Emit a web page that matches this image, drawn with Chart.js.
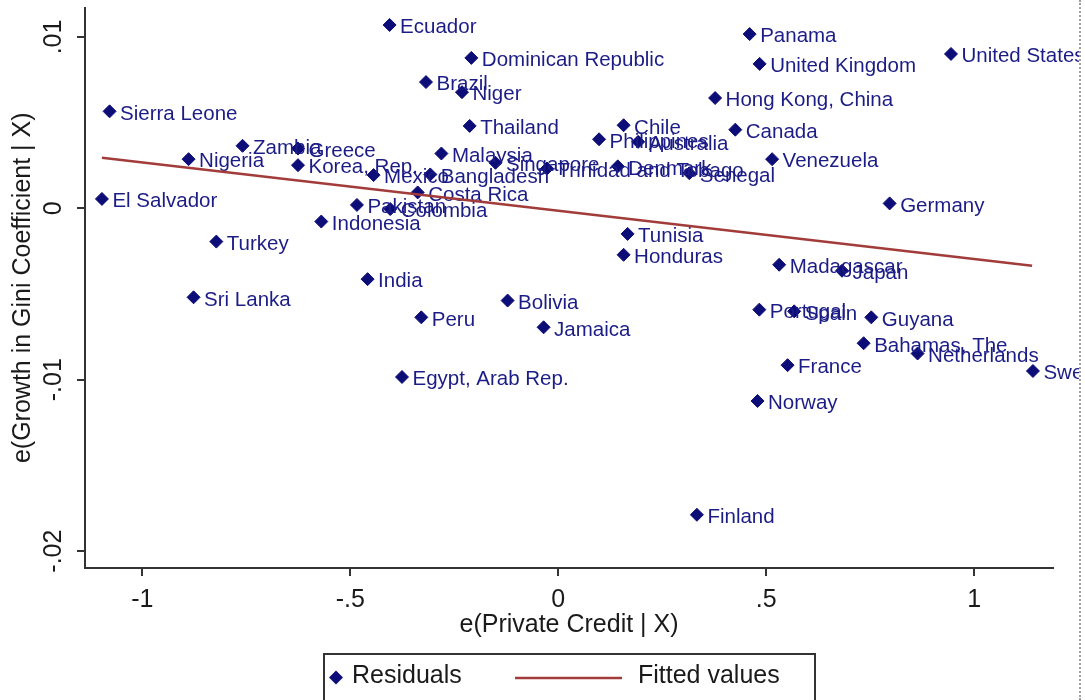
<!DOCTYPE html>
<html>
<head>
<meta charset="utf-8">
<title>Private credit and inequality growth</title>
<script src="https://cdn.jsdelivr.net/npm/chart.js@4.4.1/dist/chart.umd.min.js"></script>
<style>
    html, body { margin: 0; padding: 0; background: #fff; }
    #wrap { position: absolute; left: 0; top: 0; width: 1079px; height: 700px; border-right: 2px dotted #a0a0a0; }
    canvas { display: block; }
</style>
</head>
<body>
<div id="wrap"><canvas id="chart" width="1079" height="700"></canvas></div>
<script>
const countries = [
    "Ecuador", "Dominican Republic", "Brazil", "Niger", "Thailand", "Chile", "Philippines",
    "Australia", "Malaysia", "Singapore", "Trinidad and Tobago", "Denmark", "Senegal",
    "Venezuela", "Canada", "Hong Kong, China", "Panama", "United Kingdom", "United States",
    "Germany", "Sierra Leone", "Zambia", "Greece", "Nigeria", "Korea, Rep.", "El Salvador",
    "Mexico", "Bangladesh", "Costa Rica", "Pakistan", "Colombia", "Indonesia", "Turkey",
    "Sri Lanka", "India", "Bolivia", "Peru", "Jamaica", "Egypt, Arab Rep.", "Tunisia",
    "Honduras", "Madagascar", "Japan", "Portugal", "Spain", "Guyana", "Bahamas, The",
    "Netherlands", "Sweden", "France", "Norway", "Finland"
];

// e(Private Credit | X)
const creditResid = [
    -0.4055, -0.209, -0.318, -0.2315, -0.213, 0.157, 0.098,
    0.192, -0.281, -0.151, -0.027, 0.143, 0.315,
    0.514, 0.4255, 0.377, 0.46, 0.484, 0.944,
    0.7965, -1.0786, -0.759, -0.6257, -0.8887, -0.6257, -1.097,
    -0.444, -0.3077, -0.338, -0.484, -0.404, -0.5697, -0.822,
    -0.8767, -0.4584, -0.1218, -0.3293, -0.0353, -0.3757, 0.1666,
    0.157, 0.531, 0.682, 0.4832, 0.567, 0.7524, 0.734,
    0.8637, 1.141, 0.5512, 0.479, 0.3332
];

// e(Growth in Gini Coefficient | X)
const giniResid = [
    0.0107, 0.00878, 0.00737, 0.00678, 0.00481, 0.00485, 0.00403,
    0.00388, 0.0032, 0.00266, 0.00233, 0.00245, 0.00205,
    0.00287, 0.00459, 0.00644, 0.01017, 0.00843, 0.00901,
    0.00029, 0.00566, 0.00365, 0.00349, 0.00287, 0.00252, 0.00055,
    0.00194, 0.00198, 0.00093, 0.0002, -0.00004, -0.00077, -0.00194,
    -0.00519, -0.00413, -0.00538, -0.00636, -0.00694, -0.00984, -0.00149,
    -0.00271, -0.00329, -0.00364, -0.00591, -0.00601, -0.00636, -0.00787,
    -0.00847, -0.00949, -0.00915, -0.01124, -0.01788
];

const fittedX = [-1.097, 1.139];
const fittedY = [0.00295, -0.00335];

const xTicks = [-1, -0.5, 0, 0.5, 1];
const xTickLabels = ["-1", "-.5", "0", ".5", "1"];
const yTicks = [-0.02, -0.01, 0, 0.01];
const yTickLabels = ["-.02", "-.01", "0", ".01"];

const FONT = "'Liberation Sans', Arial, sans-serif";
const NAVY = "#0d0d78";
const LABEL_NAVY = "#1c1c86";
const FIT_RED = "#a23c3a";
const AXIS = "#333333";
const TEXT = "#1a1a1a";

// country names to the right of each marker
const pointLabels = {
    id: "pointLabels",
    afterDatasetDraw(chart, args) {
        if (args.index !== 0) return;
        const ctx = chart.ctx;
        ctx.save();
        ctx.font = "20.5px " + FONT;
        ctx.fillStyle = LABEL_NAVY;
        ctx.textBaseline = "alphabetic";
        args.meta.data.forEach((pt, i) => {
            ctx.fillText(countries[i], pt.x + 10.5, pt.y + 8.3);
        });
        ctx.restore();
    }
};

// boxed legend like the stata one
const boxLegend = {
    id: "boxLegend",
    afterDraw(chart) {
        const ctx = chart.ctx;
        const sets = chart.data.datasets;
        ctx.save();
        ctx.strokeStyle = AXIS;
        ctx.lineWidth = 2;
        ctx.strokeRect(324, 654, 491, 60);

        ctx.fillStyle = NAVY;
        ctx.beginPath();
        ctx.moveTo(336, 670.5);
        ctx.lineTo(343, 677.5);
        ctx.lineTo(336, 684.5);
        ctx.lineTo(329, 677.5);
        ctx.closePath();
        ctx.fill();

        ctx.strokeStyle = FIT_RED;
        ctx.lineWidth = 2.5;
        ctx.beginPath();
        ctx.moveTo(515, 678);
        ctx.lineTo(622, 678);
        ctx.stroke();

        ctx.font = "25px " + FONT;
        ctx.fillStyle = TEXT;
        ctx.textBaseline = "alphabetic";
        ctx.fillText(sets[0].label, 352, 683);
        ctx.fillText(sets[1].label, 638, 683);
        ctx.restore();
    }
};

const residuals = countries.map((c, i) => ({ x: creditResid[i], y: giniResid[i] }));
const fitted = fittedX.map((x, i) => ({ x: x, y: fittedY[i] }));

new Chart(document.getElementById("chart"), {
    type: "scatter",
    data: {
        datasets: [
            {
                label: "Residuals",
                data: residuals,
                order: 2,
                pointStyle: "rectRot",
                pointRadius: 6.5,
                pointBorderWidth: 1,
                backgroundColor: NAVY,
                borderColor: NAVY
            },
            {
                type: "line",
                label: "Fitted values",
                data: fitted,
                order: 1,
                borderColor: FIT_RED,
                borderWidth: 2.5,
                pointRadius: 0,
                fill: false
            }
        ]
    },
    options: {
        responsive: false,
        animation: false,
        devicePixelRatio: 1,
        layout: { padding: { top: 5, right: 26, left: 0, bottom: 0 } },
        plugins: {
            legend: { display: false },
            tooltip: { enabled: false }
        },
        scales: {
            x: {
                type: "linear",
                min: -1.1377,
                max: 1.1892,
                border: { color: AXIS, width: 2 },
                grid: { drawOnChartArea: false, color: AXIS, lineWidth: 2, tickLength: 8 },
                afterBuildTicks: s => { s.ticks = xTicks.map(v => ({ value: v })); },
                ticks: {
                    callback: (v, i) => xTickLabels[i],
                    autoSkip: false,
                    maxRotation: 0,
                    padding: 9,
                    color: TEXT,
                    font: { family: FONT, size: 25 }
                },
                title: {
                    display: true,
                    text: "e(Private Credit | X)",
                    color: TEXT,
                    font: { family: FONT, size: 25 },
                    padding: { top: 0, bottom: 60 }
                },
                afterFit: s => { s.height = 132; s.paddingLeft = 0; s.paddingRight = 0; }
            },
            y: {
                type: "linear",
                min: -0.020985,
                max: 0.01172,
                border: { color: AXIS, width: 2 },
                grid: { drawOnChartArea: false, color: AXIS, lineWidth: 2, tickLength: 8 },
                afterBuildTicks: s => { s.ticks = yTicks.map(v => ({ value: v })); },
                ticks: {
                    callback: (v, i) => yTickLabels[i],
                    autoSkip: false,
                    minRotation: 90,
                    maxRotation: 90,
                    crossAlign: "center",
                    padding: 1,
                    color: TEXT,
                    font: { family: FONT, size: 25 }
                },
                title: {
                    display: true,
                    text: "e(Growth in Gini Coefficient | X)",
                    color: TEXT,
                    font: { family: FONT, size: 25 },
                    padding: { top: 8, bottom: 0 }
                },
                afterFit: s => { s.width = 85; s.paddingTop = 0; s.paddingBottom = 0; }
            }
        }
    },
    plugins: [pointLabels, boxLegend]
});
</script>
</body>
</html>
